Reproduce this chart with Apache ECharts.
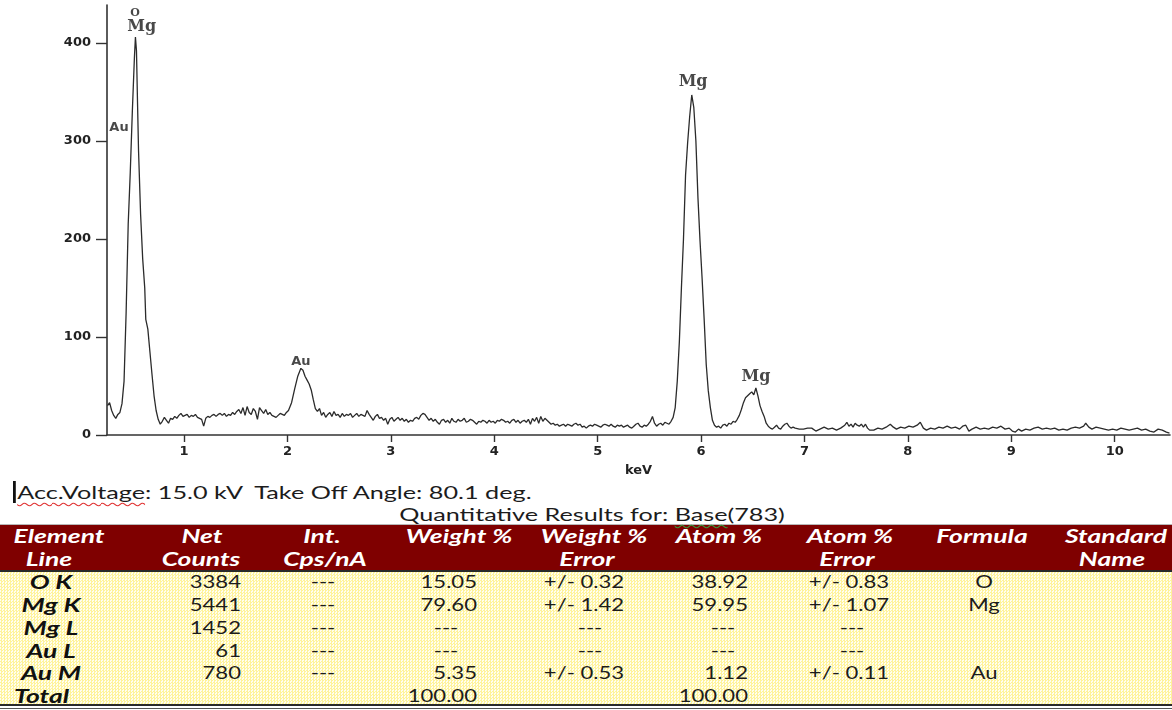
<!DOCTYPE html>
<html>
<head>
<meta charset="utf-8">
<title>EDS spectrum</title>
<script src="https://cdn.jsdelivr.net/npm/echarts@6/dist/echarts.min.js"></script>
<style>
  html, body { margin: 0; padding: 0; background: #fff; width: 1172px; height: 710px; overflow: hidden; position: relative; }
  #chart { position: absolute; left: 0; top: 0; width: 1172px; height: 480px; }
  .t { position: absolute; white-space: nowrap; font-family: Lato, "Open Sans", sans-serif; font-size: 17px; line-height: 20px; height: 20px; color: #1c1c1c; }
  .big { font-size: 18px; }
  .hd { color: #fff; font-weight: bold; font-style: italic; font-size: 18px; }
  .rl { font-weight: bold; font-style: italic; color: #111; font-size: 18px; }
  .spell { text-decoration: underline wavy #e03030; text-decoration-thickness: 1px; text-underline-offset: 3px; }
  .gram { text-decoration: underline wavy #3a9a3a; text-decoration-thickness: 1px; text-underline-offset: 3px; }
  .caret { border-left: 2px solid #111; padding-left: 1px; }
  #head { position: absolute; left: 0; top: 524px; width: 1172px; height: 46px; background: #7f0000; border-top: 1px solid #b8b8b8; }
  #headRule { position: absolute; left: 0; top: 570px; width: 1172px; height: 2px; background: #2a2a2a; }
  #body { position: absolute; left: 0; top: 572px; width: 1172px; height: 132px;
          background-color: #fffbd0;
          background-image: repeating-conic-gradient(#fff39a 0 25%, #fffef0 0 50%);
          background-size: 3px 3px; }
  #foot1 { position: absolute; left: 0; top: 704px; width: 1172px; height: 2px; background: #2a2a2a; }
  #foot2 { position: absolute; left: 0; top: 708px; width: 1172px; height: 1px; background: #555; }
</style>
</head>
<body>
<div id="chart"></div>
<div id="head"></div>
<div id="headRule"></div>
<div id="body"></div>
<div id="foot1"></div>
<div id="foot2"></div>
<script>
// ---- spectrum: [energy keV, counts] ----
const spectrum = [
  [0.26,30],[0.28,33],[0.30,25],[0.32,20],[0.34,17],[0.36,21],[0.38,23],[0.40,32],[0.42,55],[0.44,125],
  [0.46,215],[0.48,268],[0.50,330],[0.52,385],[0.53,406],[0.54,392],[0.55,340],[0.56,290],[0.58,225],[0.60,180],
  [0.62,150],[0.63,118],[0.65,108],[0.67,85],[0.69,62],[0.71,40],[0.73,25],[0.75,16],[0.77,11],[0.79,14],
  [0.81,18],[0.83,15],[0.85,12],[0.87,17],[0.89,16],[0.91,19],[0.93,17],[0.95,20],[0.97,22],[0.99,19],
  [1.01,20],[1.03,21],[1.05,18],[1.07,20],[1.09,19],[1.11,21],[1.13,18],[1.15,17],[1.17,16],[1.19,9],
  [1.21,17],[1.23,19],[1.25,18],[1.27,20],[1.29,21],[1.31,19],[1.33,21],[1.35,22],[1.37,20],[1.39,22],
  [1.41,19],[1.43,21],[1.45,20],[1.47,23],[1.49,21],[1.51,24],[1.53,26],[1.55,22],[1.57,28],[1.59,20],
  [1.61,29],[1.63,23],[1.65,21],[1.67,27],[1.69,24],[1.71,16],[1.73,28],[1.75,25],[1.77,22],[1.79,26],
  [1.81,21],[1.83,23],[1.85,20],[1.87,19],[1.89,18],[1.91,20],[1.93,22],[1.95,21],[1.97,20],[1.99,23],
  [2.01,25],[2.04,33],[2.07,47],[2.10,60],[2.13,68],[2.15,66],[2.17,60],[2.19,56],[2.21,52],[2.23,46],
  [2.25,36],[2.27,27],[2.29,24],[2.31,27],[2.33,20],[2.35,23],[2.37,18],[2.39,21],[2.41,23],[2.43,19],
  [2.45,24],[2.47,20],[2.49,21],[2.51,18],[2.53,22],[2.55,19],[2.57,21],[2.59,20],[2.61,22],[2.63,18],
  [2.65,20],[2.67,22],[2.69,19],[2.71,21],[2.73,20],[2.75,19],[2.77,25],[2.79,21],[2.81,18],[2.83,15],
  [2.85,19],[2.87,21],[2.89,17],[2.91,18],[2.93,15],[2.95,17],[2.97,11],[2.99,16],[3.01,18],[3.03,14],
  [3.05,16],[3.07,18],[3.09,15],[3.11,17],[3.13,14],[3.15,16],[3.17,13],[3.19,15],[3.21,14],[3.23,17],
  [3.25,18],[3.27,16],[3.29,20],[3.31,22],[3.33,21],[3.35,18],[3.37,15],[3.39,17],[3.41,14],[3.43,16],
  [3.45,13],[3.47,11],[3.49,15],[3.51,16],[3.53,13],[3.55,15],[3.57,12],[3.59,17],[3.61,14],[3.63,13],
  [3.65,16],[3.67,14],[3.69,15],[3.71,17],[3.73,13],[3.75,14],[3.77,16],[3.79,15],[3.81,13],[3.83,11],
  [3.85,14],[3.87,13],[3.89,15],[3.91,14],[3.93,12],[3.95,15],[3.97,13],[3.99,14],[4.01,12],[4.03,15],
  [4.05,14],[4.07,16],[4.09,15],[4.11,13],[4.13,14],[4.15,12],[4.17,15],[4.19,16],[4.21,13],[4.23,15],
  [4.25,12],[4.27,14],[4.29,15],[4.31,13],[4.33,16],[4.35,11],[4.37,17],[4.39,14],[4.41,18],[4.43,12],
  [4.45,19],[4.47,14],[4.49,17],[4.51,15],[4.53,13],[4.55,11],[4.57,12],[4.59,10],[4.61,11],[4.63,9],
  [4.65,10],[4.67,11],[4.69,9],[4.71,11],[4.73,10],[4.75,9],[4.77,11],[4.79,12],[4.81,10],[4.83,11],
  [4.85,8],[4.87,9],[4.89,7],[4.91,9],[4.93,10],[4.95,9],[4.97,11],[4.99,10],[5.01,9],[5.03,8],
  [5.05,10],[5.07,11],[5.09,10],[5.11,9],[5.13,11],[5.15,9],[5.17,8],[5.19,10],[5.21,9],[5.23,10],
  [5.25,8],[5.27,9],[5.29,10],[5.31,8],[5.33,7],[5.35,9],[5.37,11],[5.39,12],[5.41,9],[5.43,8],
  [5.45,10],[5.47,9],[5.49,11],[5.51,14],[5.53,19],[5.55,12],[5.57,9],[5.59,11],[5.61,12],[5.63,10],
  [5.65,13],[5.67,12],[5.69,11],[5.71,14],[5.73,18],[5.75,28],[5.77,55],[5.79,95],[5.81,150],[5.83,200],
  [5.85,265],[5.87,298],[5.89,325],[5.91,347],[5.93,334],[5.95,300],[5.97,242],[5.99,198],[6.01,160],[6.03,118],
  [6.05,72],[6.07,45],[6.09,28],[6.11,15],[6.13,10],[6.15,8],[6.17,9],[6.19,7],[6.21,10],[6.23,11],
  [6.25,9],[6.27,12],[6.29,11],[6.31,14],[6.33,13],[6.35,16],[6.37,20],[6.39,26],[6.41,33],[6.43,38],
  [6.45,40],[6.47,42],[6.49,44],[6.51,41],[6.53,48],[6.55,40],[6.57,30],[6.59,24],[6.61,19],[6.63,12],
  [6.65,9],[6.67,7],[6.69,6],[6.71,8],[6.73,10],[6.75,7],[6.77,6],[6.79,9],[6.81,11],[6.83,12],
  [6.85,9],[6.87,7],[6.89,8],[6.91,7],[6.95,6],[6.99,6],[7.03,7],[7.07,7],[7.11,4],[7.15,6],
  [7.19,8],[7.23,6],[7.27,7],[7.31,5],[7.35,7],[7.39,10],[7.41,13],[7.43,9],[7.45,11],[7.47,8],
  [7.49,12],[7.51,10],[7.53,9],[7.55,11],[7.57,8],[7.59,11],[7.61,7],[7.63,5],[7.67,5],[7.71,7],
  [7.75,6],[7.79,8],[7.83,11],[7.86,8],[7.89,6],[7.93,8],[7.97,7],[8.01,9],[8.05,8],[8.09,10],
  [8.12,13],[8.15,7],[8.18,5],[8.22,7],[8.26,6],[8.30,8],[8.34,7],[8.38,9],[8.42,7],[8.46,8],
  [8.50,6],[8.53,9],[8.56,10],[8.59,4],[8.62,6],[8.66,8],[8.70,6],[8.74,7],[8.78,6],[8.82,8],
  [8.86,7],[8.90,9],[8.94,6],[8.98,7],[9.01,4],[9.04,3],[9.07,6],[9.10,4],[9.14,6],[9.18,5],
  [9.22,7],[9.26,8],[9.30,6],[9.34,7],[9.38,6],[9.42,7],[9.46,5],[9.50,6],[9.54,5],[9.58,7],
  [9.62,8],[9.66,7],[9.70,9],[9.72,12],[9.75,8],[9.78,6],[9.82,8],[9.86,7],[9.90,6],[9.94,5],
  [9.98,6],[10.02,5],[10.06,7],[10.10,6],[10.14,5],[10.18,6],[10.22,7],[10.26,5],[10.30,6],[10.34,4],
  [10.38,3],[10.42,6],[10.46,5],[10.50,3],[10.53,2]
];

// peak identification labels: [energy keV, counts, text]
const peakLabelsSerif = [[0.526, 430, 'O'], [0.591, 416, 'Mg'], [5.923, 360, 'Mg'], [6.532, 59, 'Mg']];
const peakLabelsSans = [[0.371, 314, 'Au'], [2.13, 75, 'Au']];

// axis ticks
const xTicks = [1, 2, 3, 4, 5, 6, 7, 8, 9, 10];
const yTicks = [0, 100, 200, 300, 400];

// ---- quantitative results table ----
const infoLine = 'Acc.Voltage: 15.0 kV  Take Off Angle: 80.1 deg.';
const resultsTitle = 'Quantitative Results for: Base(783)';
const headerTop = ['Element', 'Net', 'Int.', 'Weight %', 'Weight %', 'Atom %', 'Atom %', 'Formula', 'Standard'];
const headerBottom = ['Line', 'Counts', 'Cps/nA', '', 'Error', '', 'Error', '', 'Name'];
const elementLines = ['O K', 'Mg K', 'Mg L', 'Au L', 'Au M', 'Total'];
const netCounts = ['3384', '5441', '1452', '61', '780', ''];
const intCps = ['---', '---', '---', '---', '---', ''];
const weightPct = ['15.05', '79.60', '---', '---', '5.35', '100.00'];
const weightErr = ['+/- 0.32', '+/- 1.42', '---', '---', '+/- 0.53', ''];
const atomPct = ['38.92', '59.95', '---', '---', '1.12', '100.00'];
const atomErr = ['+/- 0.83', '+/- 1.07', '---', '---', '+/- 0.11', ''];
const formula = ['O', 'Mg', '', '', 'Au', ''];

// ---- chart ----
const chart = echarts.init(document.getElementById('chart'), null, { renderer: 'canvas' });
const axisColor = '#333';
const labelFont = { fontFamily: '"DejaVu Sans", sans-serif', fontWeight: 'bold', fontSize: 13, color: '#222' };

chart.setOption({
  animation: false,
  backgroundColor: '#fff',
  grid: { left: 107, right: 2, top: 5, bottom: 45, outerBoundsMode: 'none' },
  xAxis: {
    type: 'value', min: 0.255, max: 10.535,
    name: 'keV', nameLocation: 'middle', nameGap: 29,
    nameTextStyle: { fontFamily: '"DejaVu Sans", sans-serif', fontWeight: 'bold', fontSize: 13, color: '#222' },
    axisLine: { show: true, onZero: false, lineStyle: { color: axisColor, width: 1.6 } },
    axisTick: { show: true, customValues: xTicks, length: 7, lineStyle: { color: axisColor, width: 1.4 } },
    axisLabel: Object.assign({ customValues: xTicks, margin: 10 }, labelFont),
    splitLine: { show: false }
  },
  yAxis: {
    type: 'value', min: 0, max: 438.8,
    axisLine: { show: true, onZero: false, lineStyle: { color: axisColor, width: 1.6 } },
    axisTick: { show: true, customValues: yTicks, length: 11, lineStyle: { color: axisColor, width: 1.4 } },
    axisLabel: Object.assign({ customValues: yTicks, margin: 16 }, labelFont),
    splitLine: { show: false }
  },
  series: [
    {
      type: 'line', data: spectrum, showSymbol: false, smooth: false,
      lineStyle: { color: '#2b2b2b', width: 1.3 }, z: 2
    },
    {
      type: 'scatter', data: peakLabelsSerif, symbolSize: 0, silent: true,
      label: {
        show: true, position: [0, 0], align: 'center', verticalAlign: 'middle',
        formatter: p => p.data[2],
        fontFamily: '"DejaVu Serif", "Liberation Serif", serif', fontWeight: 'bold', fontSize: 16, color: '#1a1a1a'
      },
      // the oxygen marker sits in small type above the first Mg label
      labelLayout: p => (p.text === 'O' ? { fontSize: 11 } : {})
    },
    {
      type: 'scatter', data: peakLabelsSans, symbolSize: 0, silent: true,
      label: {
        show: true, position: [0, 0], align: 'center', verticalAlign: 'middle',
        formatter: p => p.data[2],
        fontFamily: '"DejaVu Sans", sans-serif', fontWeight: 'bold', fontSize: 13, color: '#1a1a1a'
      }
    }
  ]
});

// ---- table text ----
function addText(html, x, yc, align, cls, scale) {
  const el = document.createElement('div');
  el.className = 't ' + cls;
  el.innerHTML = html;
  el.style.left = x + 'px';
  el.style.top = (yc - 10) + 'px';
  el.style.transformOrigin = '0 50%';
  const shift = align === 'center' ? ' translateX(-50%)' : align === 'right' ? ' translateX(-100%)' : '';
  el.style.transform = 'scaleX(' + scale + ')' + shift;
  document.body.appendChild(el);
}

const BODY_SCALE = 1.3, HEAD_SCALE = 1.47, TITLE_SCALE = 1.4;
addText('<span class="caret"></span><span class="spell">Acc.Voltage</span>' + infoLine.slice('Acc.Voltage'.length).replace(/  /g, ' &nbsp;'),
        13, 492, 'left', 'big', TITLE_SCALE);
addText(resultsTitle.replace('Base', '<span class="gram">Base</span>'), 592, 514, 'center', 'big', TITLE_SCALE);

const headTopX = [59, 202, 322, 459, 594, 719, 850, 982, 1116];
const headBotX = [49, 201, 325, 459, 587, 719, 847, 982, 1112];
headerTop.forEach((s, i) => addText(s, headTopX[i], 536, 'center', 'hd', HEAD_SCALE));
headerBottom.forEach((s, i) => s && addText(s, headBotX[i], 559, 'center', 'hd', HEAD_SCALE));

const rowY = [582, 605, 628, 651, 673, 696];
const dash = '---';
elementLines.forEach((s, r) => {
  if (r === elementLines.length - 1) addText(s, 14, rowY[r], 'left', 'rl', HEAD_SCALE);
  else addText(s, 51, rowY[r], 'center', 'rl', HEAD_SCALE);
});
function column(values, xNum, alignNum, xDash) {
  values.forEach((s, r) => {
    if (!s) return;
    if (s === dash) addText(s, xDash, rowY[r], 'center', '', BODY_SCALE);
    else addText(s, xNum, rowY[r], alignNum, '', BODY_SCALE);
  });
}
column(netCounts, 241, 'right', 320);
column(intCps, 0, 'right', 323);
column(weightPct, 477, 'right', 446);
column(weightErr, 584, 'center', 590);
column(atomPct, 748, 'right', 723);
column(atomErr, 849, 'center', 852);
column(formula, 984, 'center', 984);
</script>
</body>
</html>
